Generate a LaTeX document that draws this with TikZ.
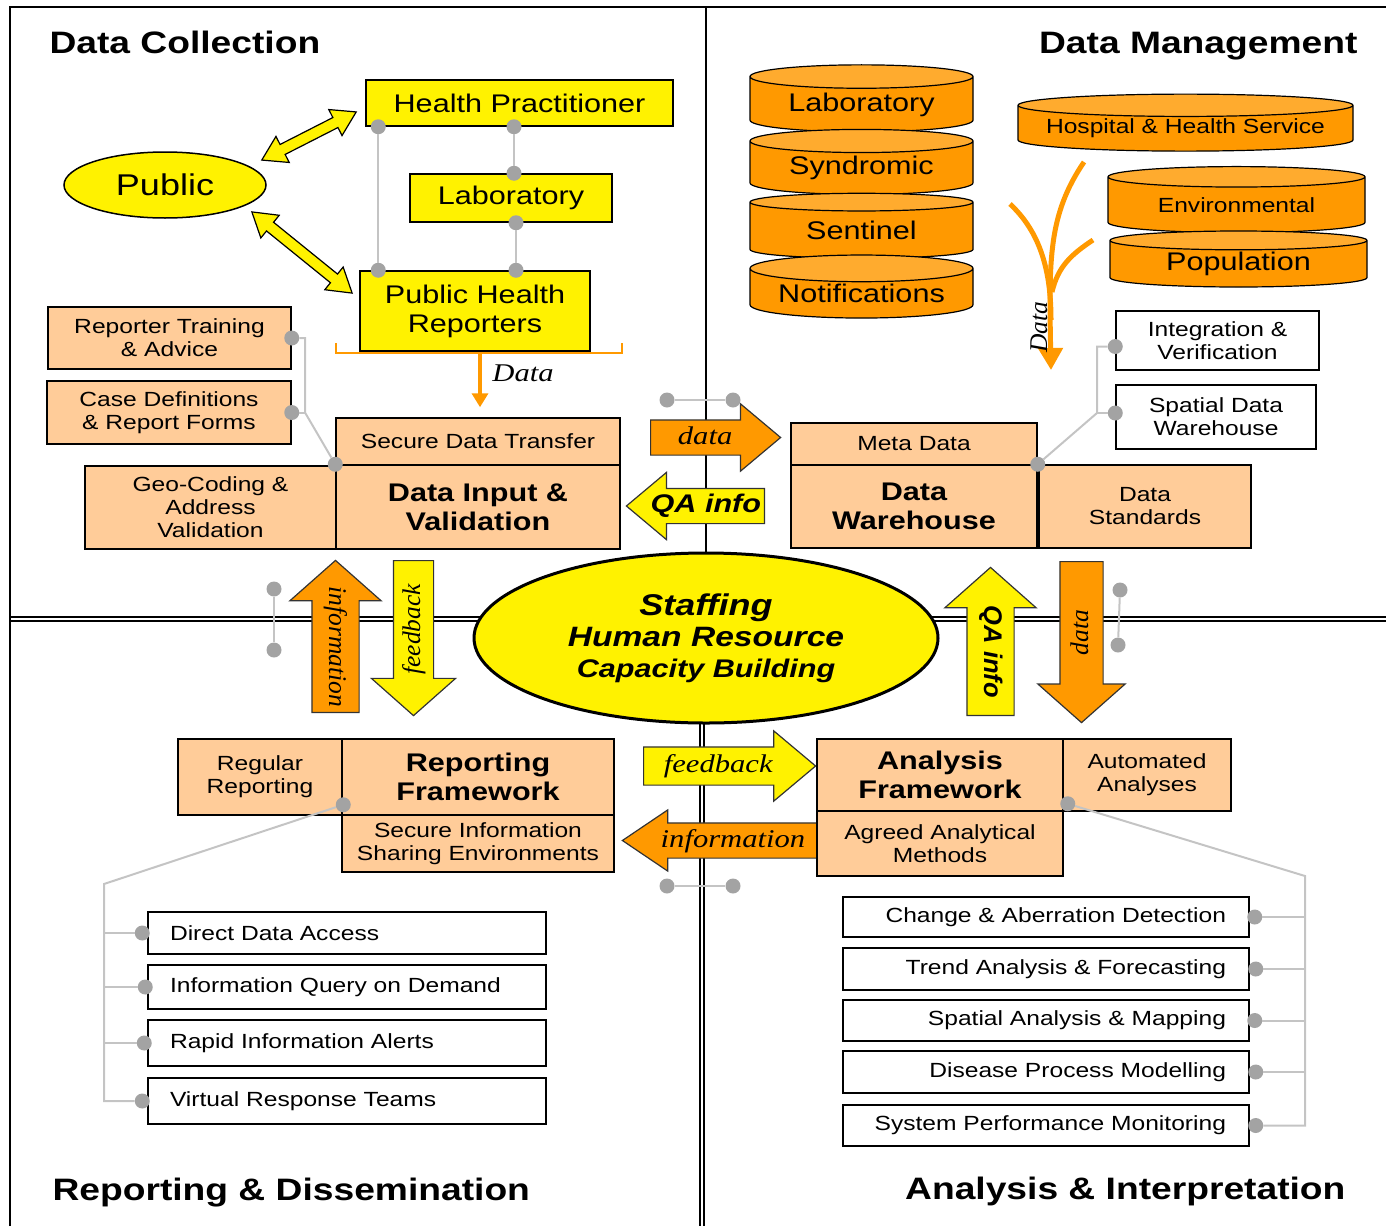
\documentclass[tikz,border=0pt]{standalone}
\usepackage{fontspec}
\setmainfont{Liberation Sans}[FakeStretch=1.2]
\newfontfamily\flowserif{Liberation Serif}[FakeStretch=1.2]
\newfontfamily\upserif{Liberation Serif}
\newfontfamily\upsans{Liberation Sans}
\usetikzlibrary{shapes.geometric}
\usetikzlibrary{shapes.arrows}
\usetikzlibrary{arrows.meta}

\definecolor{peach}{HTML}{FFCC99}
\definecolor{dborange}{HTML}{FF9900}
\definecolor{dbcap}{HTML}{FFAB2E}
\definecolor{linkgray}{HTML}{C4C4C4}
\definecolor{dotgray}{HTML}{A3A3A3}

\newcommand{\fsmall}{\fontsize{20.5}{23}\selectfont}
\newcommand{\fmid}{\fontsize{25.5}{29}\selectfont}
\newcommand{\ftitle}{\fontsize{31}{35}\selectfont\bfseries}
\newcommand{\fflow}{\flowserif\itshape\fontsize{25.5}{29}\selectfont}
\newcommand{\fupflow}{\upserif\itshape\fontsize{25.5}{29}\selectfont}
\newcommand{\fupqa}{\upsans\bfseries\itshape\fontsize{25.5}{29}\selectfont}

\tikzset{
  box/.style = {draw, line width=1.5pt, inner sep=0pt, align=center, font=\fsmall},
  ybox/.style = {box, fill=yellow, font=\fmid},
  pbox/.style = {box, fill=peach},
  wbox/.style = {box, fill=white},
  rlist/.style = {wbox, minimum width=398, text width=354, align=left},
  alist/.style = {wbox, minimum width=406, text width=360, align=right},
  dbcyl/.style = {cylinder, shape border rotate=90, draw, line width=1.2pt, aspect=0.16, font=\fsmall,
    cylinder uses custom fill, cylinder body fill=dborange, cylinder end fill=dbcap, inner sep=0pt},
  gdot/.style = {circle, fill=dotgray, inner sep=0pt, minimum size=15pt},
  link/.style = {draw=linkgray, line width=2pt},
  dblarrow/.style = {double arrow, draw, line width=1.2pt, fill=yellow, inner xsep=0pt, inner ysep=5pt,
    double arrow head extend=9pt, double arrow tip angle=64},
  harrow/.style = {single arrow, draw=black!80, line width=1.2pt, inner xsep=2pt, inner ysep=5.5pt,
    text height=18pt, text depth=5pt, single arrow head extend=16pt, single arrow tip angle=80, anchor=tail},
  varrow/.style = {harrow, inner ysep=11.5pt, single arrow head extend=22pt, single arrow tip angle=97},
}

\begin{document}
\begin{tikzpicture}[x=1pt,y=-1pt]
  \useasboundingbox (0,0) rectangle (1386,1226);

  % quadrants
  \draw[line width=1.5pt] (10,1226) -- (10,7) -- (1386,7);
  \draw[line width=1.5pt] (706,7) -- (706,617);
  \draw[line width=1.2pt] (10,617) -- (1386,617);
  \draw[line width=1.2pt] (10,621) -- (1386,621);
  \draw[line width=1.2pt] (700,621) -- (700,1226);
  \draw[line width=1.2pt] (704,621) -- (704,1226);

  \node[anchor=base west, font=\ftitle] (tcoll) at (46,53) {Data Collection};
  \node[anchor=base east, font=\ftitle] (tman) at (1361,53) {Data Management};
  \node[anchor=base west, font=\ftitle] (trep) at (49,1200) {Reporting \& Dissemination};
  \node[anchor=base east, font=\ftitle] (tana) at (1349,1199) {Analysis \& Interpretation};

  % data collection
  \node[ellipse, draw, line width=1.5pt, fill=yellow, minimum width=202, minimum height=66, inner sep=0pt,
    font=\fontsize{30}{34}\selectfont] (public) at (165,185) {Public};
  \node[ybox, minimum width=307, minimum height=46] (hp) at (519.5,103) {Health Practitioner};
  \node[ybox, minimum width=202, minimum height=48] (lab) at (511,198) {Laboratory};
  \node[ybox, minimum width=230, minimum height=80] (phr) at (475,311) {Public Health\\Reporters};

  \node[dblarrow, minimum height=106, rotate=27] (pubhp) at (309,136) {};
  \node[dblarrow, minimum height=129, rotate=-39] (pubphr) at (302,252.5) {};

  \node[gdot] (hpd1) at ([xshift=13pt]hp.south west) {};
  \node[gdot] (hpd2) at ([xshift=-5.5pt]hp.south) {};
  \node[gdot] (labd1) at ([xshift=3pt]lab.north) {};
  \node[gdot] (labd2) at ([xshift=5pt]lab.south) {};
  \node[gdot] (phrd1) at ([xshift=19pt]phr.north west) {};
  \node[gdot] (phrd2) at ([xshift=41pt]phr.north) {};
  \draw[link] (hpd1) -- (phrd1);
  \draw[link] (hpd2) -- (labd1);
  \draw[link] (labd2) -- (phrd2);

  \node[pbox, minimum width=243, minimum height=62] (rta) at (169.5,338) {Reporter Training\\\& Advice};
  \node[pbox, minimum width=244, minimum height=63] (cdf) at (169,412.5) {Case Definitions\\\& Report Forms};
  \node[pbox, minimum width=284, minimum height=47] (sdt) at (478,441.5) {Secure Data Transfer};
  \node[pbox, minimum width=284, minimum height=84, font=\fmid\bfseries] (div) at (478,507) {Data Input \&\\Validation};
  \node[pbox, minimum width=251, minimum height=83] (geo) at (210.5,507.5) {Geo-Coding \&\\Address\\Validation};

  \node[gdot] (rtad) at (rta.east) {};
  \node[gdot] (cdfd) at (cdf.east) {};
  \node[gdot] (divd) at (div.north west) {};
  \coordinate (cdj) at (305,412.5);
  \draw[link] (rtad) -| (cdj) -- (divd);
  \draw[link] (cdfd) -- (cdj);

  \coordinate (brl) at (336,343);
  \coordinate (brr) at (622,343);
  \coordinate (brm) at (480,353);
  \coordinate (sdttop) at ([yshift=10pt]sdt.north -| brm);
  \draw[dborange, line width=1.5pt] (brl) |- (brr |- brm) -- (brr);
  \draw[dborange, line width=4pt, -{Triangle[width=16pt,length=14pt]}] (brm) -- (sdttop);
  \node[font=\fflow] (datalbl) at (523,373) {Data};

  % between collection and management
  \node[gdot] (cdot1) at (667,400) {};
  \node[gdot] (cdot2) at (733,400) {};
  \draw[link] (cdot1) -- (cdot2);
  \node[harrow, fill=dborange, minimum height=130, font=\fflow] (datar) at (650,437.5) {data};
  \node[harrow, fill=yellow, shape border rotate=180, minimum height=138, font=\fmid\bfseries\itshape] (qal) at (765,506) {QA info};

  % data management
  \node[dbcyl, minimum width=223, minimum height=67, font=\fmid] (labdb) at (861.5,104.5) {Laboratory};
  \node[dbcyl, minimum width=223, minimum height=65, font=\fmid] (syndb) at (861.5,168) {Syndromic};
  \node[dbcyl, minimum width=223, minimum height=65, font=\fmid] (sendb) at (861.5,230.5) {Sentinel};
  \node[dbcyl, minimum width=223, minimum height=63, font=\fmid] (notdb) at (861.5,293.5) {Notifications};
  \node[dbcyl, minimum width=335, minimum height=57, aspect=0.08] (hospdb) at (1185.5,128.5) {Hospital \& Health Service};
  \node[dbcyl, minimum width=257, minimum height=66, aspect=0.13] (envdb) at (1236.5,205) {Environmental};
  \node[dbcyl, minimum width=257, minimum height=56, aspect=0.13, font=\fmid] (popdb) at (1238.5,264) {Population};

  \coordinate (fla) at (1084,162);
  \coordinate (flb) at (1010,204);
  \coordinate (flc) at (1093,240);
  \coordinate (flm) at (1051,320);
  \coordinate (fln) at (1052,292);
  \coordinate (fltip) at (1051,370);
  \draw[dborange, line width=5pt, -{Triangle[width=24pt,length=22pt]}] (fla) .. controls (1048,215) and (1049,260) .. (fltip);
  \draw[dborange, line width=5pt] (flb) .. controls (1040,232) and (1051,270) .. (flm);
  \draw[dborange, line width=5pt] (flc) .. controls (1072,254) and (1058,266) .. (fln);
  \node[font=\fupflow, rotate=90] (flowlbl) at (1039,327) {Data};

  \node[wbox, minimum width=203, minimum height=59] (intv) at (1217.5,340.5) {Integration \&\\Verification};
  \node[wbox, minimum width=200, minimum height=64] (sdw) at (1216,417) {Spatial Data\\Warehouse};
  \node[pbox, minimum width=246, minimum height=42] (meta) at (914,444) {Meta Data};
  \node[pbox, minimum width=246, minimum height=83, font=\fmid\bfseries] (dw) at (914,506.5) {Data\\Warehouse};
  \node[pbox, minimum width=212, minimum height=83] (dstd) at (1145,506.5) {Data\\Standards};

  \node[gdot] (intvd) at ([yshift=-6pt]intv.west) {};
  \node[gdot] (sdwd) at ([yshift=4pt]sdw.west) {};
  \node[gdot] (dwd) at (dw.north east) {};
  \coordinate (dmj) at (1097,413);
  \draw[link] (intvd) -| (dmj) -- (dwd);
  \draw[link] (sdwd) -- (dmj);

  % centre
  \node[ellipse, draw, line width=3pt, fill=yellow, minimum width=464, minimum height=170, inner sep=0pt, align=center,
    font=\bfseries\itshape\fontsize{28}{31}\selectfont] (staff) at (706,638)
    {{\fontsize{30}{31}\selectfont Staffing}\\Human Resource\\{\fontsize{25.5}{31}\selectfont Capacity Building}};

  \node[varrow, fill=dborange, rotate=-90, shape border rotate=180, minimum height=152, font=\fupflow] (infou) at (335.5,713) {information};
  \node[varrow, fill=yellow, rotate=90, shape border rotate=180, minimum height=155, inner ysep=8pt, font=\fupflow] (fbd) at (413.5,560) {feedback};
  \node[varrow, fill=yellow, rotate=-90, shape border rotate=180, minimum height=148, font=\fupqa] (qau) at (990.5,716) {QA info};
  \node[varrow, fill=dborange, rotate=90, shape border rotate=180, minimum height=161, inner ysep=9.5pt, font=\fupflow] (datad) at (1081.5,561) {data};

  \node[gdot] (ldot1) at (274,589) {};
  \node[gdot] (ldot2) at (274,650) {};
  \draw[link] (ldot1) -- (ldot2);
  \node[gdot] (rdot1) at (1120,590) {};
  \node[gdot] (rdot2) at (1118,645) {};
  \draw[link] (rdot1) -- (rdot2);

  % reporting
  \node[pbox, minimum width=164, minimum height=76] (rr) at (260,777) {Regular\\Reporting};
  \node[pbox, minimum width=272, minimum height=76, font=\fmid\bfseries] (rf) at (478,777) {Reporting\\Framework};
  \node[pbox, minimum width=272, minimum height=57] (sise) at (478,843.5) {Secure Information\\Sharing Environments};

  \node[rlist, minimum height=42] (dda) at (347,933) {Direct Data Access};
  \node[rlist, minimum height=44] (iqd) at (347,987) {Information Query on Demand};
  \node[rlist, minimum height=46] (ria) at (347,1043) {Rapid Information Alerts};
  \node[rlist, minimum height=46] (vrt) at (347,1101) {Virtual Response Teams};

  \node[gdot] (rfd) at ([shift={(2pt,11pt)}]rf.south west) {};
  \node[gdot] (ddad) at ([xshift=-5pt]dda.west) {};
  \node[gdot] (iqdd) at ([xshift=-2pt]iqd.west) {};
  \node[gdot] (riad) at ([xshift=-3pt]ria.west) {};
  \node[gdot] (vrtd) at ([xshift=-5pt]vrt.west) {};
  \coordinate (rbend) at (104,884);
  \draw[link] (rfd) -- (rbend) |- (vrtd);
  \draw[link] (ddad) -- (ddad -| rbend);
  \draw[link] (iqdd) -- (iqdd -| rbend);
  \draw[link] (riad) -- (riad -| rbend);

  % between reporting and analysis
  \node[harrow, fill=yellow, minimum height=172, inner ysep=7pt, font=\fflow] (fbr) at (643,766) {feedback};
  \node[harrow, fill=dborange, shape border rotate=180, minimum height=195, single arrow head extend=13pt,
    single arrow tip angle=68, font=\fflow] (infol) at (818,840.5) {information};
  \node[gdot] (bdot1) at (667,886) {};
  \node[gdot] (bdot2) at (733,886) {};
  \draw[link] (bdot1) -- (bdot2);

  % analysis
  \node[pbox, minimum width=246, minimum height=72, font=\fmid\bfseries] (af) at (940,775) {Analysis\\Framework};
  \node[pbox, minimum width=168, minimum height=72] (aa) at (1147,775) {Automated\\Analyses};
  \node[pbox, minimum width=246, minimum height=65] (aam) at (940,843.5) {Agreed Analytical\\Methods};

  \node[alist, minimum height=40] (cad) at (1046,917) {Change \& Aberration Detection};
  \node[alist, minimum height=42] (taf) at (1046,969) {Trend Analysis \& Forecasting};
  \node[alist, minimum height=41] (sam) at (1046,1020.5) {Spatial Analysis \& Mapping};
  \node[alist, minimum height=42] (dpm) at (1046,1072) {Disease Process Modelling};
  \node[alist, minimum height=41] (spm) at (1046,1125.5) {System Performance Monitoring};

  \node[gdot] (afd) at ([shift={(4pt,8pt)}]af.south east) {};
  \node[gdot] (cadd) at ([xshift=5pt]cad.east) {};
  \node[gdot] (tafd) at ([xshift=6pt]taf.east) {};
  \node[gdot] (samd) at ([xshift=5pt]sam.east) {};
  \node[gdot] (dpmd) at ([xshift=6pt]dpm.east) {};
  \node[gdot] (spmd) at ([xshift=6pt]spm.east) {};
  \coordinate (abend) at (1305,876);
  \draw[link] (afd) -- (abend) |- (spmd);
  \draw[link] (cadd) -- (cadd -| abend);
  \draw[link] (tafd) -- (tafd -| abend);
  \draw[link] (samd) -- (samd -| abend);
  \draw[link] (dpmd) -- (dpmd -| abend);
\end{tikzpicture}
\end{document}
